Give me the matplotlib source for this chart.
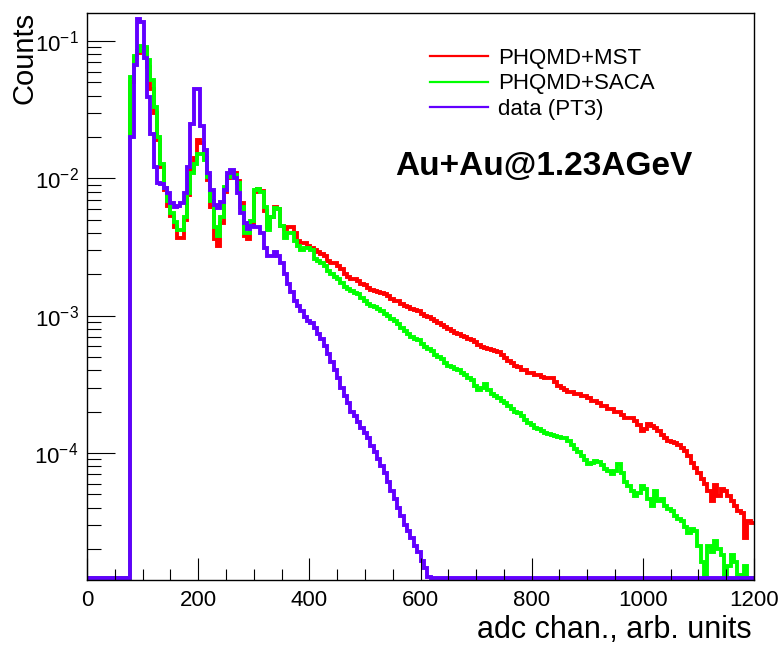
import numpy as np
import matplotlib
matplotlib.use("Agg")
import matplotlib.pyplot as plt
from matplotlib.ticker import LogLocator, MultipleLocator, NullFormatter

plt.rcParams["font.family"] = ["Liberation Sans", "DejaVu Sans"]
plt.rcParams["mathtext.fontset"] = "custom"
plt.rcParams["mathtext.rm"] = "Liberation Sans"
plt.rcParams["mathtext.it"] = "Liberation Sans:italic"
plt.rcParams["mathtext.bf"] = "Liberation Sans:bold"

# adc spectrum, 200 bins of 6 channels over 0..1200
adc_lo, adc_hi, n_bins = 0, 1200, 200

mst = [0.0] * 13 + [
    0.050, 0.075, 0.082, 0.085, 0.088, 0.065, 0.045,
    0.030, 0.019, 0.0120, 0.0082, 0.0063, 0.0053, 0.0044, 0.0037, 0.0037, 0.0050,
    0.0076, 0.0115, 0.0140, 0.019, 0.018, 0.0140, 0.0098, 0.0062, 0.0036, 0.0032,
    0.0047, 0.0080, 0.0100, 0.0108, 0.0110, 0.0095, 0.0066, 0.0038, 0.0036, 0.0046,
    0.0080, 0.0084, 0.0081, 0.0058, 0.0044, 0.0052, 0.0062, 0.0060,
    0.0045, 0.0043, 0.0044, 0.0044, 0.0040, 0.0035, 0.0034, 0.0034, 0.0032, 0.0031,
    0.0030, 0.0029, 0.0028, 0.0027, 0.0025, 0.0024, 0.0024, 0.0023, 0.0022, 0.0020,
    0.0019, 0.00186, 0.00186, 0.00180, 0.00171, 0.00166, 0.00160, 0.00155, 0.00152, 0.00150,
    0.00147, 0.00145, 0.00140, 0.00133, 0.00129, 0.00127, 0.00122, 0.00118, 0.00116, 0.00112,
    0.00110, 0.00109, 0.00103, 0.00100, 0.00098, 0.00095, 0.00092, 0.00089, 0.00086, 0.00083,
    0.00080, 0.00078, 0.00075, 0.00074, 0.00071, 0.00070, 0.00068, 0.00066, 0.00064, 0.00061,
    0.00059, 0.00058, 0.00057, 0.00056, 0.00055, 0.00054, 0.00052, 0.00049, 0.00047, 0.00045,
    0.00043, 0.00042, 0.00040, 0.00040, 0.00038, 0.00038, 0.00037, 0.00037, 0.00036, 0.00035,
    0.00035, 0.00035, 0.00033, 0.00031, 0.00030, 0.00029, 0.00028, 0.00028, 0.00027, 0.00027,
    0.00026, 0.00026, 0.00025, 0.00024, 0.00024, 0.00023, 0.00022, 0.00022, 0.00021, 0.00021,
    0.00020, 0.00020, 0.00019, 0.00018, 0.00018, 0.00018, 0.00017, 0.00016, 0.000145, 0.00015,
    0.000163, 0.000158, 0.000152, 0.000145, 0.000135, 0.000129, 0.000122, 0.000120, 0.000118, 0.000114,
    0.000108, 0.000103, 9.5e-5, 8.5e-5, 7.8e-5, 7.1e-5, 6.5e-5, 6.0e-5, 5.3e-5, 4.5e-5,
    5.9e-5, 4.9e-5, 5.5e-5, 5.3e-5, 4.9e-5, 4.5e-5, 4.1e-5, 3.8e-5, 3.65e-5, 2.4e-5, 3.2e-5, 3.1e-5,
]

saca = [0.0] * 13 + [
    0.055, 0.078, 0.085, 0.092, 0.090, 0.073, 0.052,
    0.033, 0.020, 0.0128, 0.0085, 0.0069, 0.0056, 0.0048, 0.0042, 0.0042, 0.0052,
    0.0078, 0.011, 0.0128, 0.015, 0.015, 0.0135, 0.0102, 0.0069, 0.0044, 0.0038,
    0.0052, 0.0086, 0.0102, 0.0105, 0.0105, 0.0092, 0.0062, 0.0040, 0.0040, 0.0049,
    0.0082, 0.0083, 0.0080, 0.0062, 0.0042, 0.0052, 0.0061, 0.0060,
    0.0045, 0.0037, 0.0040, 0.0040, 0.0035, 0.0032, 0.0030, 0.0031, 0.0031, 0.0030,
    0.0026, 0.0025, 0.0024, 0.0023, 0.0021, 0.0020, 0.0019, 0.00186, 0.00174, 0.00163,
    0.00157, 0.00152, 0.00147, 0.00145, 0.00135, 0.00129, 0.00122, 0.00118, 0.00116, 0.00112,
    0.00109, 0.00103, 0.00100, 0.00095, 0.00092, 0.00087, 0.00082, 0.00078, 0.00074, 0.00070,
    0.00068, 0.00066, 0.00062, 0.00059, 0.00057, 0.00055, 0.00052, 0.00050, 0.00048, 0.00045,
    0.00043, 0.00042, 0.00041, 0.00040, 0.00038, 0.00037, 0.00035, 0.00034, 0.00031, 0.00029,
    0.00030, 0.00032, 0.00029, 0.00027, 0.00026, 0.00025, 0.00024, 0.00023, 0.00022, 0.00021,
    0.00020, 0.000196, 0.000186, 0.000174, 0.000166, 0.000160, 0.000152, 0.000150, 0.000145, 0.000140,
    0.000138, 0.000135, 0.000133, 0.000131, 0.000129, 0.000129, 0.000122, 0.000114, 0.000107, 0.000102,
    9.5e-5, 8.9e-5, 8.3e-5, 8.5e-5, 8.7e-5, 8.6e-5, 8.2e-5, 7.6e-5, 7.4e-5, 7.0e-5,
    7.4e-5, 8.3e-5, 7.1e-5, 6.2e-5, 5.8e-5, 5.3e-5, 4.9e-5, 5.1e-5, 5.8e-5, 5.5e-5,
    4.6e-5, 4.1e-5, 5.3e-5, 4.5e-5, 4.6e-5, 4.1e-5, 3.9e-5, 3.8e-5, 3.5e-5, 3.3e-5,
    3.2e-5, 2.9e-5, 2.6e-5, 2.8e-5, 2.7e-5, 2.1e-5, 1.6e-5, 0.0, 2.1e-5, 1.9e-5,
    2.3e-5, 2.0e-5, 1.8e-5, 0.0, 1.5e-5, 1.8e-5, 1.6e-5, 1.3e-5, 0.0, 1.5e-5, 0.0, 0.0,
]

pt3 = [0.0] * 13 + [
    0.020, 0.067, 0.145, 0.137, 0.075, 0.039, 0.021,
    0.012, 0.0093, 0.0091, 0.0085, 0.0078, 0.0066, 0.0062, 0.0063, 0.0066, 0.0078,
    0.012, 0.025, 0.045, 0.045, 0.024, 0.016, 0.011, 0.0082, 0.0064, 0.0061,
    0.0067, 0.0082, 0.011, 0.0115, 0.0101, 0.0078, 0.0056, 0.0047, 0.0043, 0.0045,
    0.0044, 0.0044, 0.0040, 0.0031, 0.0027, 0.0027, 0.0029, 0.0027,
    0.0024, 0.0020, 0.0017, 0.00148, 0.00129, 0.00117, 0.00109, 0.00098, 0.00092, 0.00088,
    0.00081, 0.00074, 0.00068, 0.00060, 0.00053, 0.00046, 0.00040, 0.00035, 0.00030, 0.00026,
    0.00023, 0.00020, 0.000185, 0.000168, 0.000152, 0.000141, 0.000128, 0.000113, 0.000102, 9.1e-5,
    8.1e-5, 7.1e-5, 6.2e-5, 5.3e-5, 4.6e-5, 4.0e-5, 3.5e-5, 3.0e-5, 2.7e-5, 2.4e-5,
    2.1e-5, 1.9e-5, 1.65e-5, 1.45e-5, 1.25e-5,
] + [0.0] * 97

series = [
    ("PHQMD+MST", mst, "#ff0000"),
    ("PHQMD+SACA", saca, "#00ff00"),
    ("data (PT3)", pt3, "#6200ff"),
]

ymin, ymax = 1.19e-5, 0.16

W, H = 782, 646
fig = plt.figure(figsize=(W / 100, H / 100), dpi=100)
ax = fig.add_axes([87 / W, 1 - 580 / H, (754 - 87) / W, (580 - 13) / H])

edges = np.linspace(adc_lo, adc_hi, n_bins + 1)
handles = []
for label, vals, col in series:
    v = np.asarray(vals, dtype=float)
    assert len(v) == n_bins
    # empty bins sit on the lower frame, like ROOT does on a log pad
    v = np.where(v > 0, v, ymin * 1.035)
    ax.stairs(v, edges, baseline=None, color=col, lw=2.8, joinstyle="miter")
    h, = ax.plot([], [], color=col, lw=1.6, label=label)
    handles.append(h)

ax.set_xlim(adc_lo, adc_hi)
ax.set_yscale("log")
ax.set_ylim(ymin, ymax)

ax.xaxis.set_major_locator(MultipleLocator(200))
ax.xaxis.set_minor_locator(MultipleLocator(50))
ax.yaxis.set_major_locator(LogLocator(base=10, numticks=10))
ax.yaxis.set_minor_locator(LogLocator(base=10, subs=np.arange(2, 10), numticks=10))
ax.yaxis.set_minor_formatter(NullFormatter())

ax.tick_params(which="both", direction="in", top=False, right=False, colors="black", width=0.8)
ax.tick_params(which="major", axis="x", length=16, labelsize=16, pad=7)
ax.tick_params(which="minor", axis="x", length=8)
ax.tick_params(which="major", axis="y", length=20, labelsize=16, pad=6)
ax.tick_params(which="minor", axis="y", length=10)
for s in ax.spines.values():
    s.set_linewidth(1.0)

fig.text(752 / W, 1 - 638 / H, "adc chan., arb. units", ha="right", va="baseline", fontsize=22)
fig.text(11 / W, 1 - 12 / H, "Counts", rotation=90, ha="left", va="top", fontsize=21)

ax.legend(handles=handles, loc="upper left", bbox_to_anchor=(430 / W, 1 - 48 / H),
          bbox_transform=fig.transFigure, frameon=False, fontsize=16,
          handlelength=2.6, handletextpad=0.45, labelspacing=0.2, borderpad=0, borderaxespad=0)

fig.text(544 / W, 1 - 166 / H, "Au+Au@1.23AGeV", ha="center", va="center",
         fontsize=24, fontweight="bold")

fig.savefig("out.png", dpi=100)
